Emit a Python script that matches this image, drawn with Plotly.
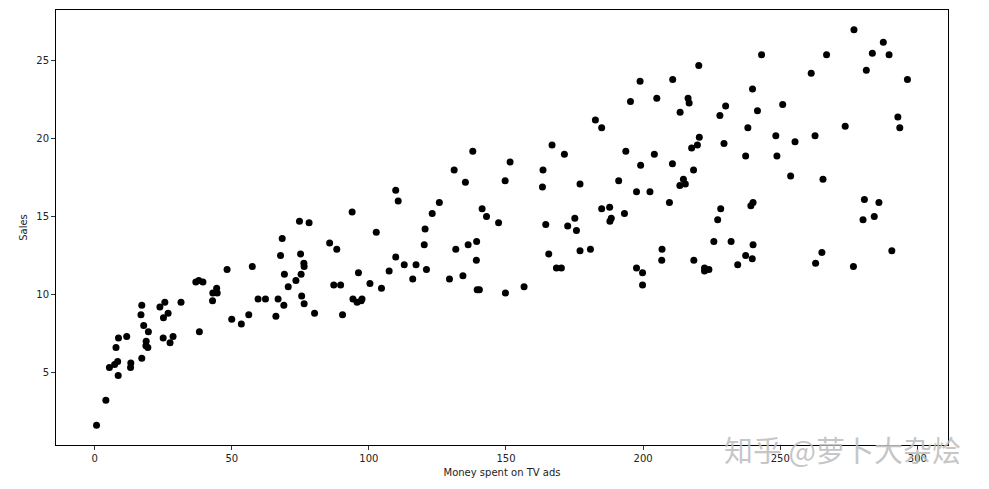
import plotly.graph_objects as go

tv = [230.1, 44.5, 17.2, 151.5, 180.8, 8.7, 57.5, 120.2, 8.6, 199.8,
      66.1, 214.7, 23.8, 97.5, 204.1, 195.4, 67.8, 281.4, 69.2, 147.3,
      218.4, 237.4, 13.2, 228.3, 62.3, 262.9, 142.9, 240.1, 248.8, 70.6,
      292.9, 112.9, 97.2, 265.6, 95.7, 290.7, 266.9, 74.7, 43.1, 228.0,
      202.5, 177.0, 293.6, 206.9, 25.1, 175.1, 89.7, 239.9, 227.2, 66.9,
      199.8, 100.4, 216.4, 182.6, 262.7, 198.9, 7.3, 136.2, 210.8, 210.7,
      53.5, 261.3, 239.3, 102.7, 131.1, 69.0, 31.5, 139.3, 237.4, 216.8,
      199.1, 109.8, 26.8, 129.4, 213.4, 16.9, 27.5, 120.5, 5.4, 116.0,
      76.4, 239.8, 75.3, 68.4, 213.5, 193.2, 76.3, 110.7, 88.3, 109.8,
      134.3, 28.6, 217.7, 250.9, 107.4, 163.3, 197.6, 184.9, 289.7, 135.2,
      222.4, 296.4, 280.2, 187.9, 238.2, 137.9, 25.0, 90.4, 13.1, 255.4,
      225.8, 241.7, 175.7, 209.6, 78.2, 75.1, 139.2, 76.4, 125.7, 19.4,
      141.3, 18.8, 224.0, 123.1, 229.5, 87.2, 7.8, 80.2, 220.3, 59.6,
      0.7, 265.2, 8.4, 219.8, 36.9, 48.3, 25.6, 273.7, 43.0, 184.9,
      73.4, 193.7, 220.5, 104.6, 96.2, 140.3, 240.1, 243.2, 38.0, 44.7,
      280.7, 121.0, 197.6, 171.3, 187.8, 4.1, 93.9, 149.8, 11.7, 131.7,
      172.5, 85.7, 188.4, 163.5, 117.2, 234.5, 17.9, 206.8, 215.4, 284.3,
      50.0, 164.5, 19.6, 168.4, 222.4, 276.9, 248.4, 170.2, 276.7, 165.6,
      156.6, 218.5, 56.2, 287.6, 253.8, 205.0, 139.5, 191.1, 286.0, 18.7,
      39.5, 75.5, 17.2, 166.8, 149.7, 38.2, 94.2, 177.0, 283.6, 232.1]

sales = [22.1, 10.4, 9.3, 18.5, 12.9, 7.2, 11.8, 13.2, 4.8, 10.6,
         8.6, 17.4, 9.2, 9.7, 19.0, 22.4, 12.5, 24.4, 11.3, 14.6,
         18.0, 12.5, 5.6, 15.5, 9.7, 12.0, 15.0, 15.9, 18.9, 10.5,
         21.4, 11.9, 9.6, 17.4, 9.5, 12.8, 25.4, 14.7, 10.1, 21.5,
         16.6, 17.1, 20.7, 12.9, 8.5, 14.9, 10.6, 23.2, 14.8, 9.7,
         11.4, 10.7, 22.6, 21.2, 20.2, 23.7, 5.5, 13.2, 23.8, 18.4,
         8.1, 24.2, 15.7, 14.0, 18.0, 9.3, 9.5, 13.4, 18.9, 22.3,
         18.3, 12.4, 8.8, 11.0, 17.0, 8.7, 6.9, 14.2, 5.3, 11.0,
         11.8, 12.3, 11.3, 13.6, 21.7, 15.2, 12.0, 16.0, 12.9, 16.7,
         11.2, 7.3, 19.4, 22.2, 11.5, 16.9, 11.7, 15.5, 25.4, 17.2,
         11.7, 23.8, 14.8, 14.7, 20.7, 19.2, 7.2, 8.7, 5.3, 19.8,
         13.4, 21.8, 14.1, 15.9, 14.6, 12.6, 12.2, 9.4, 15.9, 6.6,
         15.5, 7.0, 11.6, 15.2, 19.7, 10.6, 6.6, 8.8, 24.7, 9.7,
         1.6, 12.7, 5.7, 19.6, 10.8, 11.6, 9.5, 20.8, 9.6, 20.7,
         10.9, 19.2, 20.1, 10.4, 11.4, 10.3, 13.2, 25.4, 10.9, 10.1,
         16.1, 11.6, 16.6, 19.0, 15.6, 3.2, 15.3, 10.1, 7.3, 12.9,
         14.4, 13.3, 14.9, 18.0, 11.9, 11.9, 8.0, 12.2, 17.1, 15.0,
         8.4, 14.5, 7.6, 11.7, 11.5, 27.0, 20.2, 11.7, 11.8, 12.6,
         10.5, 12.2, 8.7, 26.2, 17.6, 22.6, 10.3, 17.3, 15.9, 6.7,
         10.8, 9.9, 5.9, 19.6, 17.3, 7.6, 9.7, 12.8, 25.5, 13.4]

x_ticks = [0, 50, 100, 150, 200, 250, 300]
y_ticks = [5, 10, 15, 20, 25]

fig = go.Figure()
fig.add_trace(go.Scatter(
    x=tv, y=sales, mode="markers",
    marker=dict(color="black", size=7, line=dict(width=0)),
    showlegend=False,
))

xmin, xmax = min(tv), max(tv)
ymin, ymax = min(sales), max(sales)
xpad = (xmax - xmin) * 0.05
ypad = (ymax - ymin) * 0.05

axis_common = dict(
    showgrid=False, zeroline=False, showline=True, linecolor="black", linewidth=1,
    mirror=True, ticks="outside", ticklen=4, tickcolor="#333", tickwidth=1,
    tickfont=dict(family="DejaVu Sans", size=10, color="#222"),
)

# page body has an 8px margin, so the figure is drawn 8px smaller
fig.update_layout(
    width=981, height=481,
    margin=dict(l=48, r=41, t=2, b=44),
    paper_bgcolor="white", plot_bgcolor="white",
    xaxis=dict(range=[xmin - xpad, xmax + xpad], tickvals=x_ticks,
               title=dict(text="Money spent on TV ads", standoff=5,
                          font=dict(family="DejaVu Sans", size=10, color="#222")),
               **axis_common),
    yaxis=dict(range=[ymin - ypad, ymax + ypad], tickvals=y_ticks,
               title=dict(text="Sales", standoff=6,
                          font=dict(family="DejaVu Sans", size=10, color="#222")),
               **axis_common),
)

fig.add_annotation(
    text="知乎 @萝卜大杂烩", xref="paper", yref="paper",
    x=1.017, y=-0.009, xanchor="right", yanchor="middle", showarrow=False,
    font=dict(family="Noto Sans CJK SC", size=29, color="rgba(190,190,190,0.9)"),
)

fig.write_html("out.html")
